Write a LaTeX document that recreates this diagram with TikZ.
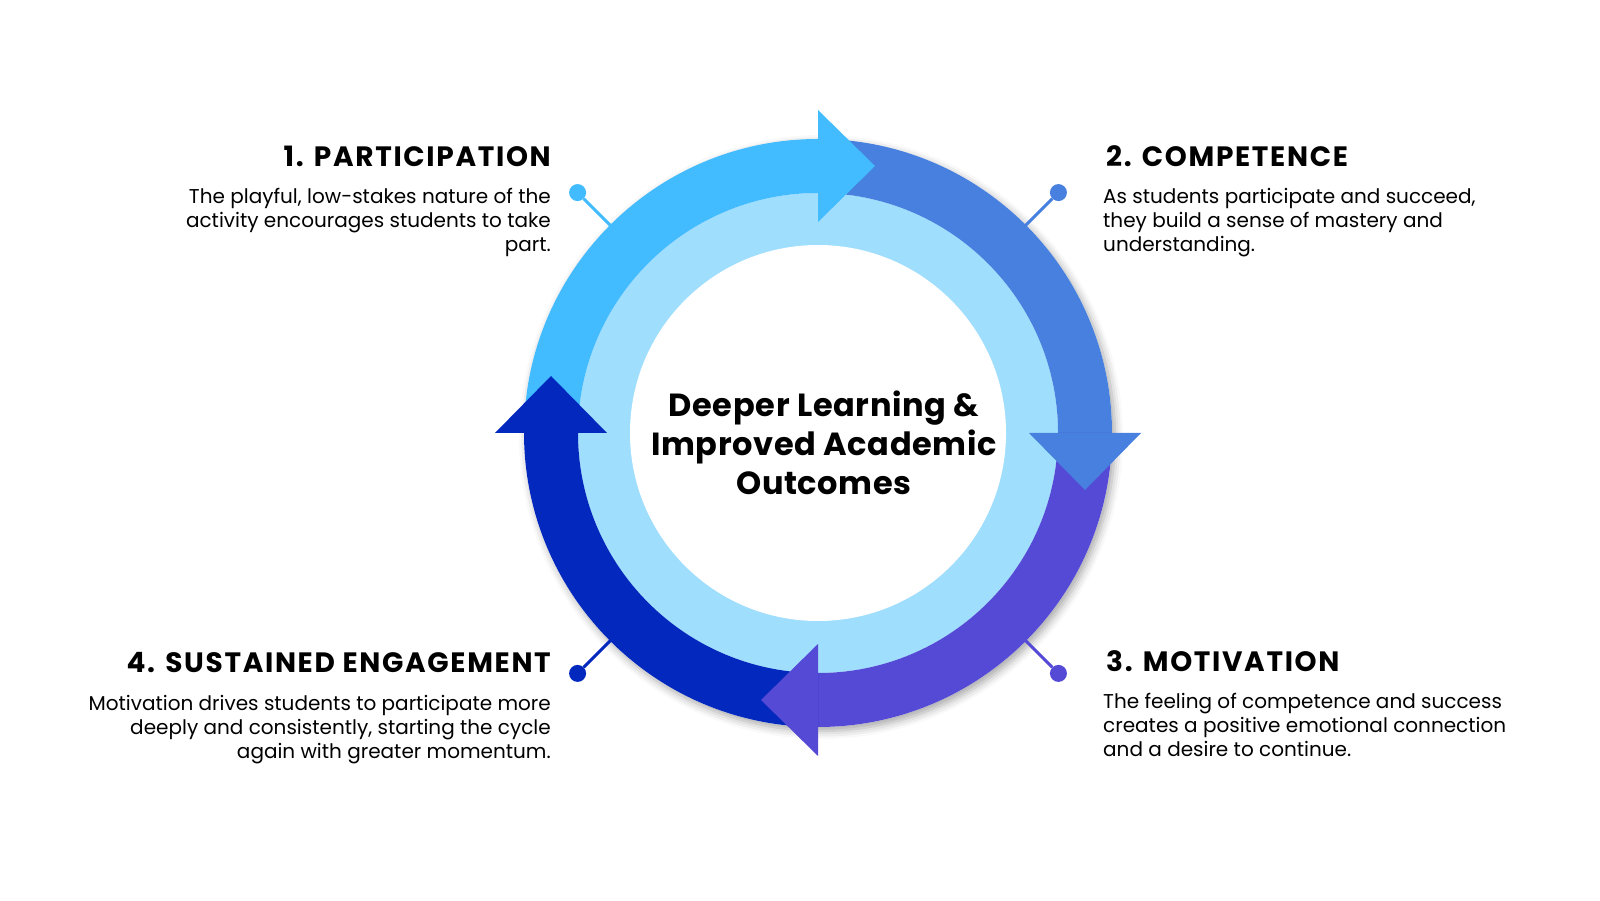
\documentclass[tikz,border=0pt]{standalone}
\usepackage{fontspec}
\setmainfont{Poppins}
\usetikzlibrary{shadows.blur}

\definecolor{partblue}{HTML}{42BBFF}
\definecolor{compblue}{HTML}{4780DE}
\definecolor{motivpurple}{HTML}{544AD6}
\definecolor{engagenavy}{HTML}{0328BE}
\definecolor{ringlight}{HTML}{A0DEFD}

\begin{document}
\begin{tikzpicture}[
        x=1pt, y=1pt,
        dot/.style={circle, minimum size=17pt, inner sep=0pt},
        stem/.style={line width=3pt},
        heading/.style={font=\fontsize{28}{32}\selectfont\bfseries\addfontfeatures{LetterSpace=6}, inner sep=0pt},
        blurb/.style={font=\fontsize{20}{24}\selectfont, inner sep=0pt},
        hub/.style={font=\fontsize{32}{39}\selectfont\bfseries\addfontfeatures{LetterSpace=2}, align=center, inner sep=0pt}
    ]
    \useasboundingbox (0,0) rectangle (1600,900);

    \begin{scope}[shift={(818,467)}]
    % Soft shadow under the cycle
    \fill[white, blur shadow={shadow xshift=3pt, shadow yshift=-4pt, shadow blur radius=8pt, shadow opacity=35}] (0,0) circle (294);

    % Stems with dots
    \foreach \i/\a/\c in {1/135/partblue, 2/45/compblue, 3/-45/motivpurple, 4/225/engagenavy} {
        \node[dot, fill=\c] (D\i) at (\a:340) {};
        \coordinate (R\i) at (\a:285);
        \draw[stem, \c] (D\i) -- (R\i);
    }

    % Light inner ring and hub
    \fill[ringlight] (0,0) circle (240);
    \fill[white] (0,0) circle (188);
    \node[hub] (C) at (6,-10) {Deeper Learning \&\\Improved Academic\\Outcomes};

    % Ring bands (one quarter each)
    \foreach \a/\c [evaluate=\a as \b using \a+90] in {90/partblue, 0/compblue, -90/motivpurple, 180/engagenavy}
        \fill[\c] (\a:294) arc[start angle=\a, end angle=\b, radius=294]
            -- (\b:240) arc[start angle=\b, end angle=\a, radius=240] -- cycle;

    % Arrow heads
    \foreach \a/\c in {90/partblue, 0/compblue, -90/motivpurple, 180/engagenavy}
        \fill[\c, rotate=\a] (211,0) -- (323,0) -- (267,-57) -- cycle;
    \end{scope}

    % Step 1
    \node[heading, anchor=base east] (T1) at (551,733) {1. PARTICIPATION};
    \node[blurb, anchor=base east, align=right] (B1) at (551,648) {The playful, low-stakes nature of the\\activity encourages students to take\\part.};

    % Step 2
    \node[heading, anchor=base west] (T2) at (1106,733) {2. COMPETENCE};
    \node[blurb, anchor=base west, align=left] (B2) at (1103,648) {As students participate and succeed,\\they build a sense of mastery and\\understanding.};

    % Step 3
    \node[heading, anchor=base west] (T3) at (1106,229) {3. MOTIVATION};
    \node[blurb, anchor=base west, align=left] (B3) at (1103,144) {The feeling of competence and success\\creates a positive emotional connection\\and a desire to continue.};

    % Step 4
    \node[heading, anchor=base east] (T4) at (551,228) {4. SUSTAINED ENGAGEMENT};
    \node[blurb, anchor=base east, align=right] (B4) at (551,142) {Motivation drives students to participate more\\deeply and consistently, starting the cycle\\again with greater momentum.};

\end{tikzpicture}
\end{document}
